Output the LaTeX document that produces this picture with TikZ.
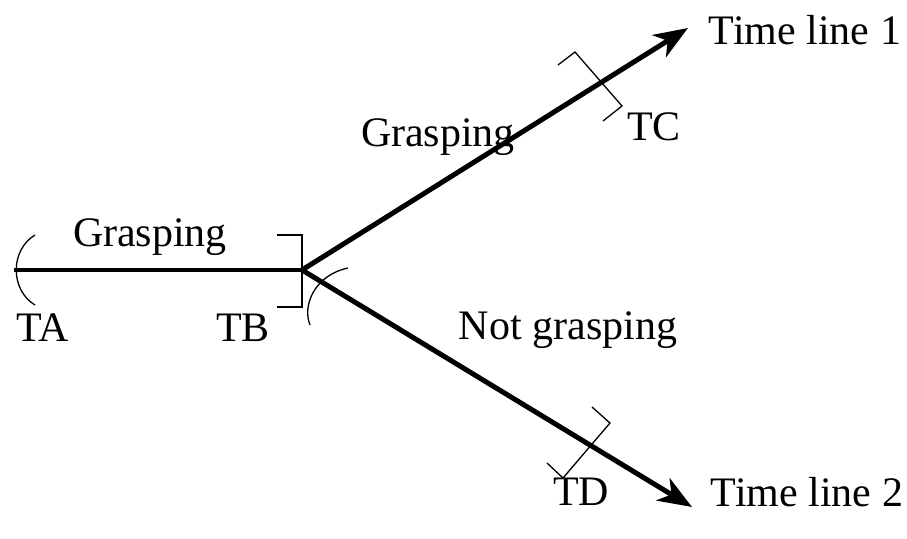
\documentclass[tikz,border=0pt]{standalone}
\usepackage{fontspec}
\setmainfont{Liberation Serif}
\usetikzlibrary{arrows.meta}
\begin{document}
\begin{tikzpicture}[x=1pt,y=-1pt,
  lbl/.style={font=\fontsize{42}{46}\selectfont, inner sep=0pt},
  thick line/.style={line width=5pt},
  thin line/.style={line width=1.3pt},
  arr/.style={thick line, -{Stealth[length=34pt,width=26pt,inset=10pt]}}]
\useasboundingbox (0,0) rectangle (907,538);
\coordinate (A) at (14,270);
\coordinate (B) at (302,270);
\coordinate (C) at (688,28);
\coordinate (D) at (692,507);
\draw[line width=4pt] (A) -- (B);
\draw[arr] (B) -- (C);
\draw[arr] (B) -- (D);
% TA arc
\draw[thin line] (35,235) .. controls (10,250) and (10,290) .. (35,305);
% TB bracket
\draw[thin line] (277,235) -- (302,235) -- (302,307) -- (277,307);
% arc near junction
\draw[thin line] (348,268) .. controls (315,275) and (302,305) .. (310,325);
% TC bracket
\draw[thin line] (558,65) -- (575,52) -- (622,106) -- (603,121);
% TD bracket
\draw[thin line] (592,407) -- (610,423) -- (563,478) -- (547,463);
% labels
\node[lbl] (t1) at (805,30) {Time line 1};
\node[lbl] (t2) at (807,492) {Time line 2};
\node[lbl] (g1) at (438,137) {Grasping};
\node[lbl] (g2) at (150,237) {Grasping};
\node[lbl] (ng) at (568,330) {Not grasping};
\node[lbl] (ta) at (43,328) {TA};
\node[lbl] (tb) at (243,328) {TB};
\node[lbl] (tc) at (654,127) {TC};
\node[lbl] (td) at (581,492) {TD};
\end{tikzpicture}
\end{document}
